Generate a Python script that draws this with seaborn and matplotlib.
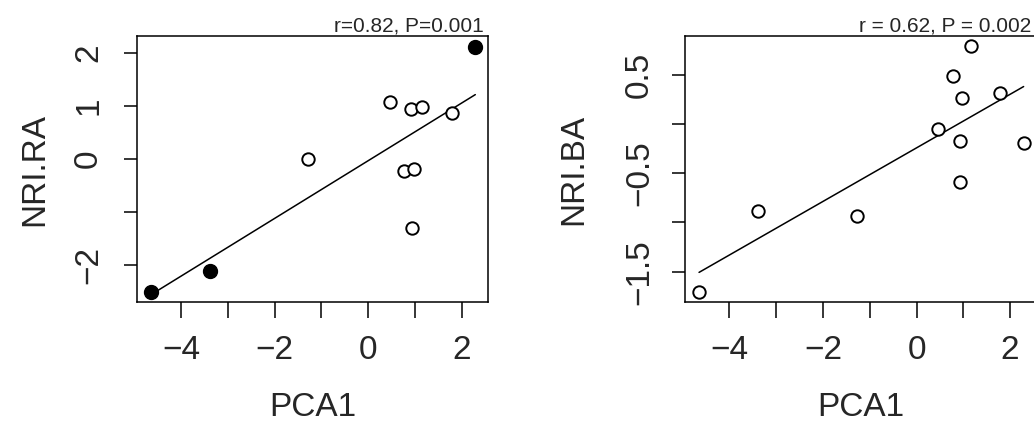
import numpy as np
import pandas as pd
import matplotlib
matplotlib.use("Agg")
import matplotlib.pyplot as plt
import seaborn as sns

# ─── Data ─────────────────────────────────────────────────────────────────────

pca1 = [-4.65, -3.39, -1.28, 0.46, 0.77, 0.92, 0.94, 0.98, 1.16, 1.79, 2.29]
nri_ra = [-2.51, -2.11, 0.01, 1.08, -0.22, 0.94, -1.30, -0.19, 0.98, 0.86, 2.12]
nri_ba = [-1.71, -0.88, -0.93, -0.05, 0.49, -0.17, -0.59, 0.26, 0.79, 0.31, -0.19]
ra_filled = [True, True, False, False, False, False, False, False, False, False, True]

x_ticks = [-4, -3, -2, -1, 0, 1, 2]
x_labels = ["−4", "", "−2", "", "0", "", "2"]
ra_ticks = [-2, -1, 0, 1, 2]
ra_labels = ["−2", "", "0", "1", "2"]
ba_ticks = [-1.5, -1.0, -0.5, 0.0, 0.5]
ba_labels = ["−1.5", "", "−0.5", "", "0.5"]

ra_note = "r=0.82, P=0.001"
ba_note = "r = 0.62, P = 0.002"

df = pd.DataFrame({"PCA1": pca1, "NRI.RA": nri_ra, "NRI.BA": nri_ba,
                   "filled": ra_filled})

# ─── Style ────────────────────────────────────────────────────────────────────

sns.set_theme(style="ticks")
plt.rcParams["font.family"] = ["Liberation Sans", "DejaVu Sans"]

fig = plt.figure(figsize=(10.34, 4.25), dpi=100)
ax1 = fig.add_axes([0.1322, 0.2887, 0.3400, 0.6266])
ax2 = fig.add_axes([0.6625, 0.2887, 0.3400, 0.6266])


def draw_panel(ax, ycol, filled, ylim, yticks, ylabels, note, ytpad, ylab_x):
    # least-squares line over the data range, then the points on top
    sns.regplot(data=df, x="PCA1", y=ycol, ax=ax, scatter=False, ci=None,
                truncate=True, color="black", line_kws={"linewidth": 1.1})
    mask = np.array(filled)
    sns.scatterplot(data=df[~mask], x="PCA1", y=ycol, ax=ax, s=80,
                    facecolor="white", edgecolor="black", linewidth=1.4,
                    zorder=3)
    if mask.any():
        sns.scatterplot(data=df[mask], x="PCA1", y=ycol, ax=ax, s=100,
                        color="black", edgecolor="black", linewidth=1.0,
                        zorder=3)
    ax.set_xlim(-4.95, 2.567)
    ax.set_ylim(*ylim)
    ax.set_xticks(x_ticks)
    ax.set_xticklabels(x_labels)
    ax.set_yticks(yticks)
    ax.set_yticklabels(ylabels, rotation=90, va="center")
    ax.tick_params(axis="x", length=11.5, width=1.1, pad=12, labelsize=24,
                   color="black")
    ax.tick_params(axis="y", length=9.5, width=1.1, pad=ytpad, labelsize=24,
                   color="black")
    for sp in ax.spines.values():
        sp.set_visible(True)
        sp.set_color("black")
        sp.set_linewidth(1.1)
    ax.set_xlabel("PCA1", fontsize=24)
    ax.set_ylabel(ycol, fontsize=24)
    ax.xaxis.set_label_coords(0.5, -0.338)
    ax.yaxis.set_label_coords(ylab_x, 0.5)
    ax.annotate(note, xy=(1.0, 1.0), xycoords="axes fraction",
                xytext=(-3.6, 0), textcoords="offset points",
                ha="right", va="bottom", fontsize=15)


draw_panel(ax1, "NRI.RA", ra_filled, (-2.70, 2.32), ra_ticks, ra_labels,
           ra_note, 14, -0.2457)
draw_panel(ax2, "NRI.BA", [False] * len(pca1), (-1.81, 0.893), ba_ticks,
           ba_labels, ba_note, 12, -0.273)

fig.savefig("out.png", dpi=100)
